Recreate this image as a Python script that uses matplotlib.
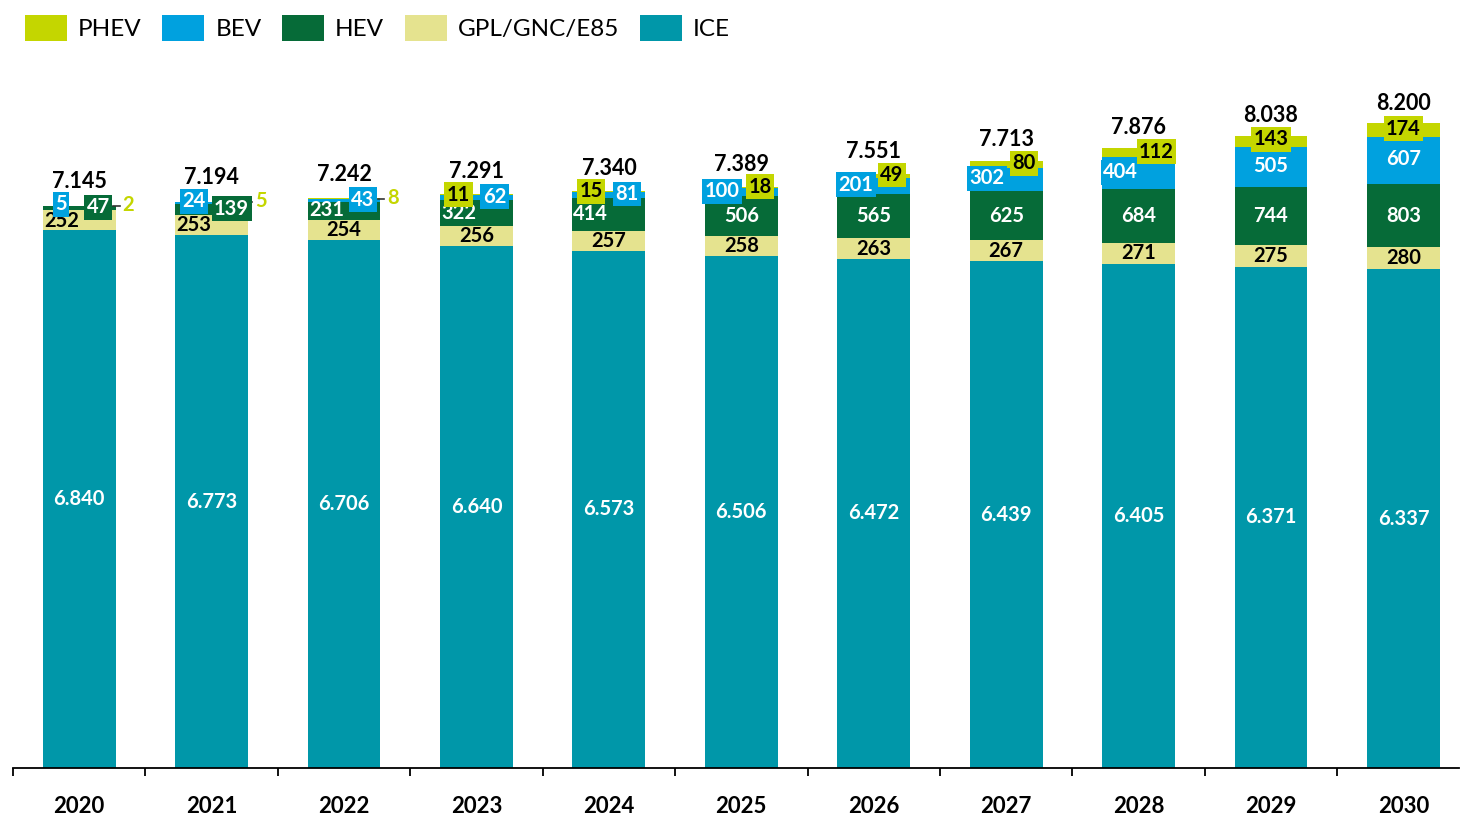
import numpy as np
import matplotlib
matplotlib.use("Agg")
import matplotlib.pyplot as plt

plt.rcParams['font.family'] = ['Lato', 'DejaVu Sans']

# data (thousands of vehicles)
years = ["2020", "2021", "2022", "2023", "2024", "2025", "2026", "2027", "2028", "2029", "2030"]
ice = [6840, 6773, 6706, 6640, 6573, 6506, 6472, 6439, 6405, 6371, 6337]
gpl = [252, 253, 254, 256, 257, 258, 263, 267, 271, 275, 280]
hev = [47, 139, 231, 322, 414, 506, 565, 625, 684, 744, 803]
bev = [5, 24, 43, 62, 81, 100, 201, 302, 404, 505, 607]
phev = [2, 5, 8, 11, 15, 18, 49, 80, 112, 143, 174]
totals = [7145, 7194, 7242, 7291, 7340, 7389, 7551, 7713, 7876, 8038, 8200]

C_ICE = "#0097A9"
C_GPL = "#E5E38F"
C_HEV = "#066B38"
C_BEV = "#00A1DF"
C_PHEV = "#C4D600"

# label offsets in pixels from segment centre (dx, dy up)
gpl_off = [(-18, -1), (-18, 0), (0, 0), (0, 0), (0, 0), (0, 0), (0, 0), (0, 0), (0, 0), (0, 0), (0, 0)]
hev_off = [(19, 1), (20, 1), (-17, 1), (-18, 0), (-18, 0), (0, 0), (0, 0), (0, 0), (0, 0), (0, 0), (0, 0)]
bev_off = [(-18, 2), (-18, 2), (19, 1), (18, 1), (18, 1), (-19, 1), (-18, 1), (-19, 1), (-18, 1), (0, 1), (0, 1)]
phev_off = [(49, 1), (49, 1), (49, 1), (-18, 0), (-18, 0), (19, 1), (18, 1), (18, 1), (18, 1), (0, 2), (0, 1)]
total_off = [14, 14, 13, 12, 12, 12, 12, 11, 10, 10, 9]
hev_box = [True, True, False, False, False, False, False, False, False, False, False]
phev_box = [False, False, False, True, True, True, True, True, True, True, True]


def fmt(v):
    return f"{v:,}".replace(",", ".")


fig = plt.figure(figsize=(14.6, 8.14), dpi=100)
ax = fig.add_axes([13 / 1460, 46 / 814, 1446 / 1460, 708 / 814])

x = np.arange(len(years))
w = 0.55
series = [("ICE", ice, C_ICE), ("GPL/GNC/E85", gpl, C_GPL), ("HEV", hev, C_HEV),
          ("BEV", bev, C_BEV), ("PHEV", phev, C_PHEV)]
bottom = np.zeros(len(years))
bars = {}
centres = {}
for name, vals, col in series:
    vals = np.array(vals, dtype=float)
    bars[name] = ax.bar(x, vals, w, bottom=bottom, color=col, linewidth=0)
    centres[name] = bottom + vals / 2
    bottom = bottom + vals

# the last category is cut by the right edge, as in the original
ax.set_xlim(-0.5, 10.42)
ax.set_ylim(0, 9000)

FS = 14.5


def put(i, name, text, off, color, box=None):
    ax.annotate(text, (x[i], centres[name][i]), xytext=off, textcoords="offset pixels",
                ha="center", va="center", fontsize=FS, fontweight="bold", color=color,
                bbox=dict(boxstyle="square,pad=0.12", fc=box, ec="none") if box else None,
                zorder=5)


for i in range(len(years)):
    put(i, "ICE", fmt(ice[i]), (0, 0), "white")
    put(i, "GPL/GNC/E85", fmt(gpl[i]), gpl_off[i], "black")
    put(i, "HEV", fmt(hev[i]), hev_off[i], "white", C_HEV if hev_box[i] else None)
    put(i, "BEV", fmt(bev[i]), bev_off[i], "white", C_BEV)
    if phev_box[i]:
        put(i, "PHEV", fmt(phev[i]), phev_off[i], "black", C_PHEV)
    else:
        put(i, "PHEV", fmt(phev[i]), phev_off[i], C_PHEV)
        yl = centres["PHEV"][i]
        ax.plot([x[i] + w / 2 - 0.02, x[i] + w / 2 + 0.03], [yl, yl], color="#333333", lw=1.2)
    ax.annotate(fmt(totals[i]), (x[i], bottom[i]), xytext=(0, total_off[i]), textcoords="offset pixels",
                ha="center", va="bottom", fontsize=15.5, fontweight="bold", color="black")

# axes styling
for s in ["top", "right", "left"]:
    ax.spines[s].set_visible(False)
ax.spines["bottom"].set_linewidth(1.3)
ax.set_yticks([])
ax.set_xticks(x)
ax.set_xticklabels(years, fontsize=16, fontweight="bold")
ax.set_xticks(np.arange(-0.5, len(years) - 1, 1.0), minor=True)
ax.tick_params(axis="x", which="major", length=0, pad=20)
ax.tick_params(axis="x", which="minor", length=6, width=1.3, direction="out")

handles = [bars["PHEV"], bars["BEV"], bars["HEV"], bars["GPL/GNC/E85"], bars["ICE"]]
labels = ["PHEV", "BEV", "HEV", "GPL/GNC/E85", "ICE"]
fig.legend(handles, labels, loc="upper left", bbox_to_anchor=(25 / 1460, 1 - 15 / 814),
           ncol=5, frameon=False, fontsize=17.5, handlelength=1.73, handleheight=1.3,
           handletextpad=0.45, columnspacing=0.85, borderpad=0, borderaxespad=0)

fig.savefig("out.png", dpi=100)
